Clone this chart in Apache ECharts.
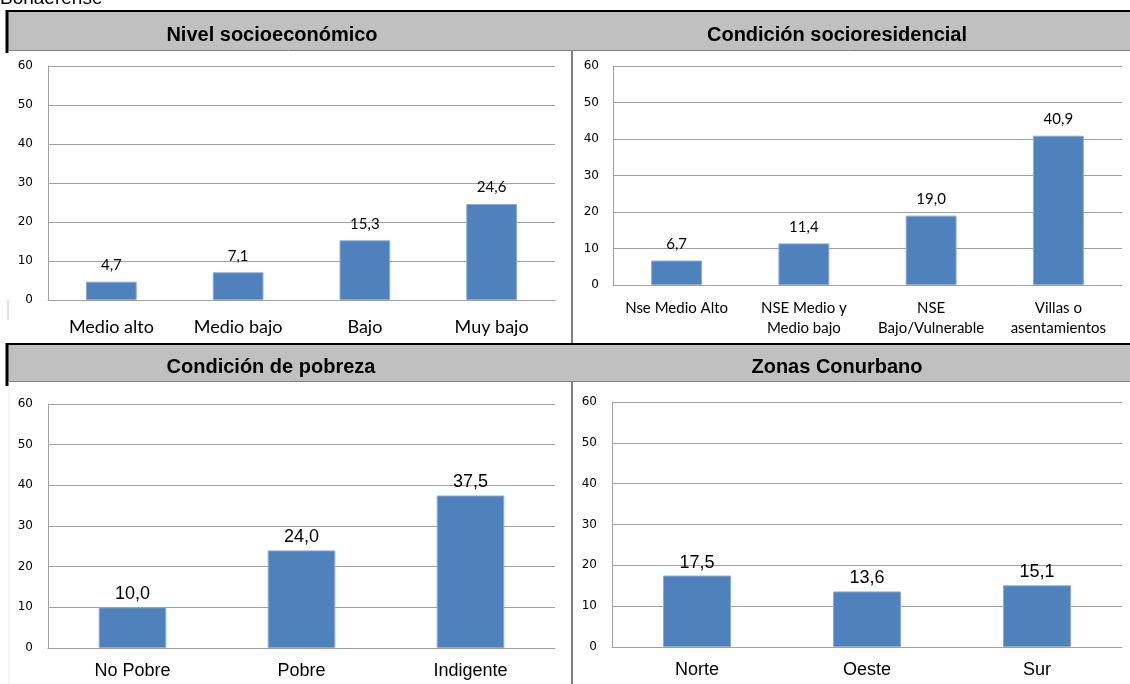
<!DOCTYPE html>
<html>
<head>
<meta charset="utf-8">
<script src="https://cdn.jsdelivr.net/npm/echarts@6/dist/echarts.min.js"></script>
<style>
  html, body { margin: 0; padding: 0; background: #fff; }
  #chart { width: 1130px; height: 684px; }
</style>
</head>
<body>
<div id="chart"></div>
<script>
// data
var nseCats = ['Medio alto', 'Medio bajo', 'Bajo', 'Muy bajo'];
var nseVals = [4.7, 7.1, 15.3, 24.6];
var resCats = ['Nse Medio Alto', 'NSE Medio y\nMedio bajo', 'NSE\nBajo/Vulnerable', 'Villas o\nasentamientos'];
var resVals = [6.7, 11.4, 19.0, 40.9];
var pobCats = ['No Pobre', 'Pobre', 'Indigente'];
var pobVals = [10.0, 24.0, 37.5];
var zonaCats = ['Norte', 'Oeste', 'Sur'];
var zonaVals = [17.5, 13.6, 15.1];
var titles = ['Nivel socioeconómico', 'Condición socioresidencial', 'Condición de pobreza', 'Zonas Conurbano'];
var yTicks = [0, 10, 20, 30, 40, 50, 60];

var myChart = echarts.init(document.getElementById('chart'));

var barColor = '#4f81bd';
var gridColor = '#a0a0a0';

function fmt(v) {
  return v.toFixed(1).replace('.', ',');
}

function yAxis(idx, margin) {
  return {
    type: 'value',
    gridIndex: idx,
    min: yTicks[0],
    max: yTicks[yTicks.length - 1],
    interval: 10,
    axisLine: { show: true, lineStyle: { color: gridColor } },
    axisTick: { show: false },
    splitLine: { lineStyle: { color: gridColor } },
    axisLabel: { color: '#000', fontFamily: 'DejaVu Sans', fontSize: 12, margin: margin }
  };
}

function xAxis(idx, cats, font, size, margin, lh) {
  return {
    type: 'category',
    gridIndex: idx,
    data: cats,
    axisLine: { lineStyle: { color: gridColor } },
    axisTick: { show: false },
    axisLabel: {
      color: '#000', fontFamily: font, fontSize: size, margin: margin,
      lineHeight: lh, interval: 0
    }
  };
}

function series(idx, vals, font, size, dist) {
  return {
    type: 'bar',
    xAxisIndex: idx,
    yAxisIndex: idx,
    data: vals,
    barWidth: '40%',
    itemStyle: { color: barColor, borderColor: '#8cabd3', borderWidth: 1 },
    label: {
      show: true,
      position: 'top',
      distance: dist,
      color: '#000',
      fontFamily: font,
      fontSize: size,
      formatter: function(p) { return fmt(p.value); }
    }
  };
}

function titleOpt(text, x, y) {
  return {
    text: text,
    left: x,
    top: y,
    textAlign: 'center',
    textStyle: { fontFamily: 'Liberation Sans', fontWeight: 'bold', fontSize: 20, color: '#000' }
  };
}

myChart.setOption({
  animation: false,
  backgroundColor: '#fff',
  title: [
    titleOpt(titles[0], 267, 20),
    titleOpt(titles[1], 832, 20),
    titleOpt(titles[2], 266, 352),
    titleOpt(titles[3], 832, 352)
  ],
  graphic: [
    { type: 'text', left: 0, top: -11, style: { text: 'Bonaerense', font: '19px "Liberation Sans"', fill: '#000' } },
    // bands
    { type: 'rect', shape: { x: 7, y: 12, width: 1123, height: 38 }, style: { fill: '#c0c0c0' }, z: -1 },
    { type: 'rect', shape: { x: 7, y: 345, width: 1123, height: 36 }, style: { fill: '#c0c0c0' }, z: -1 },
    { type: 'line', shape: { x1: 6, y1: 11, x2: 1130, y2: 11 }, style: { stroke: '#000', lineWidth: 2 } },
    { type: 'line', shape: { x1: 7, y1: 10, x2: 7, y2: 53 }, style: { stroke: '#000', lineWidth: 3 } },
    { type: 'line', shape: { x1: 8, y1: 50.5, x2: 1130, y2: 50.5 }, style: { stroke: '#7f7f7f', lineWidth: 1 } },
    { type: 'line', shape: { x1: 6, y1: 344, x2: 1130, y2: 344 }, style: { stroke: '#000', lineWidth: 2 } },
    { type: 'line', shape: { x1: 7, y1: 343, x2: 7, y2: 386 }, style: { stroke: '#000', lineWidth: 3 } },
    { type: 'line', shape: { x1: 8, y1: 381.5, x2: 1130, y2: 381.5 }, style: { stroke: '#7f7f7f', lineWidth: 1 } },
    // dividers
    { type: 'line', shape: { x1: 572, y1: 51, x2: 572, y2: 343 }, style: { stroke: '#808080', lineWidth: 2 } },
    { type: 'line', shape: { x1: 572, y1: 382, x2: 572, y2: 684 }, style: { stroke: '#808080', lineWidth: 2 } },
    { type: 'line', shape: { x1: 8, y1: 300, x2: 8, y2: 320 }, style: { stroke: '#c8c8c8', lineWidth: 1 } },
    { type: 'line', shape: { x1: 9, y1: 386, x2: 9, y2: 684 }, style: { stroke: '#ececec', lineWidth: 1 } }
  ],
  grid: [
    { left: 48, top: 66, right: 575, bottom: 384 },
    { left: 613, top: 66, right: 8, bottom: 399 },
    { left: 48, top: 404, right: 575, bottom: 36 },
    { left: 612, top: 402, right: 8, bottom: 37 }
  ],
  xAxis: [
    xAxis(0, nseCats, 'Lato', 18, 17, 20),
    xAxis(1, resCats, 'Lato', 15, 13, 20),
    xAxis(2, pobCats, 'Liberation Sans', 18, 13, 20),
    xAxis(3, zonaCats, 'Liberation Sans', 18, 13, 20)
  ],
  yAxis: [yAxis(0, 15), yAxis(1, 14), yAxis(2, 15), yAxis(3, 15)],
  series: [
    series(0, nseVals, 'Lato', 15, 9),
    series(1, resVals, 'Lato', 15, 9),
    series(2, pobVals, 'Liberation Sans', 18, 4),
    series(3, zonaVals, 'Liberation Sans', 18, 4)
  ]
});

window.addEventListener('resize', function() {
  myChart.resize();
});
</script>
</body>
</html>
